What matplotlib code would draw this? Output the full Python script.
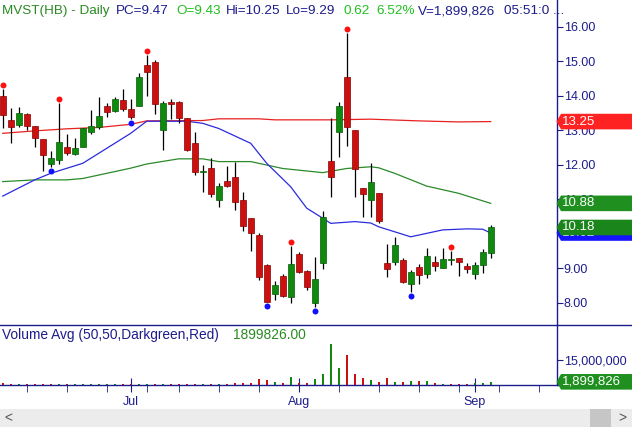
import matplotlib
matplotlib.use("Agg")
import matplotlib.pyplot as plt
import matplotlib.transforms as mtransforms
from matplotlib.patches import Polygon, Rectangle
from matplotlib.lines import Line2D
import numpy as np
import pandas as pd

plt.rcParams["font.family"] = ["Liberation Sans", "DejaVu Sans"]

# trading days on the chart (Jul 5 holiday dropped) + blank days to the right
days = pd.bdate_range("2021-06-09", "2021-09-03").drop(pd.Timestamp("2021-07-05"))
future = pd.bdate_range("2021-09-06", "2021-09-17")

opens = [13.99, 13.30, 13.16, 13.47, 13.11, 12.74, 12.03, 12.13, 12.51, 12.32,
         12.52, 12.94, 13.10, 13.70, 13.56, 13.87, 13.61, 13.69, 14.89, 14.98,
         13.00, 13.82, 13.82, 13.35, 12.63, 11.80, 11.89, 10.99, 11.52, 11.63,
         10.97, 10.45, 9.95, 9.08, 8.24, 8.77, 8.16, 9.41, 8.92, 7.98,
         9.14, 12.10, 12.94, 14.53, 13.01, 11.32, 10.97, 11.17, 9.14, 9.17,
         9.23, 8.53, 9.03, 8.82, 9.17, 9.02, 9.23, 9.29, 9.06, 8.82,
         9.08, 9.43]
highs = [14.18, 13.63, 13.68, 13.51, 13.13, 12.74, 12.40, 13.78, 12.89, 12.76,
         13.07, 13.58, 13.95, 13.80, 13.95, 14.19, 13.89, 14.65, 15.18, 15.03,
         13.85, 13.90, 13.85, 13.35, 12.95, 11.99, 12.18, 11.48, 11.97, 12.09,
         11.20, 10.45, 10.01, 9.11, 8.64, 8.83, 9.64, 9.46, 8.95, 9.32,
         10.66, 13.34, 13.83, 15.81, 13.01, 11.32, 12.04, 11.17, 9.69, 9.89,
         9.30, 8.95, 9.12, 9.59, 9.35, 9.58, 9.51, 9.29, 9.14, 9.18,
         9.56, 10.25]
lows = [13.05, 12.62, 13.08, 13.01, 12.52, 11.83, 11.94, 12.02, 12.28, 12.28,
        12.50, 12.88, 13.04, 13.39, 13.54, 13.57, 13.32, 13.69, 13.99, 13.47,
        12.44, 13.32, 13.20, 12.40, 11.69, 11.22, 11.07, 10.78, 11.36, 10.69,
        10.09, 9.51, 8.66, 8.01, 8.08, 8.16, 8.00, 8.85, 8.37, 7.88,
        8.97, 11.05, 12.21, 12.54, 11.05, 10.49, 10.49, 10.30, 8.75, 9.10,
        8.56, 8.32, 8.53, 8.71, 8.93, 9.02, 9.09, 8.78, 8.85, 8.68,
        8.85, 9.29]
closes = [13.43, 13.10, 13.49, 13.12, 12.76, 12.27, 12.19, 12.66, 12.35, 12.48,
          13.05, 13.12, 13.41, 13.54, 13.90, 13.60, 13.37, 14.54, 14.68, 13.75,
          13.80, 13.75, 13.36, 12.42, 11.78, 11.80, 11.16, 11.38, 11.37, 10.93,
          10.21, 10.01, 8.74, 8.03, 8.50, 8.19, 9.11, 8.90, 8.46, 8.68,
          10.47, 11.63, 13.70, 13.10, 11.87, 11.14, 11.49, 10.36, 8.97, 9.66,
          8.59, 8.88, 8.79, 9.34, 9.07, 9.26, 9.23, 9.17, 8.97, 9.08,
          9.46, 10.18]
volumes = [1.2e6, 0.6e6, 0.6e6, 0.5e6, 0.6e6, 0.6e6, 0.5e6, 0.7e6, 0.5e6, 0.5e6,
           0.6e6, 0.5e6, 0.6e6, 0.5e6, 0.6e6, 0.5e6, 0.5e6, 0.6e6, 0.7e6, 0.6e6,
           0.5e6, 0.5e6, 0.6e6, 0.6e6, 0.7e6, 0.5e6, 0.6e6, 0.6e6, 0.5e6, 1.4e6,
           1.4e6, 1.4e6, 3.6e6, 3.0e6, 1.8e6, 1.4e6, 4.8e6, 1.4e6, 1.4e6, 3.6e6,
           6.8e6, 24.8e6, 10.4e6, 18.0e6, 6.8e6, 4.2e6, 3.0e6, 2.0e6, 4.2e6, 2.0e6,
           2.0e6, 2.4e6, 2.4e6, 2.4e6, 1.0e6, 0.8e6, 0.8e6, 0.8e6, 0.8e6, 1.4e6,
           1.4e6, 1899826]

# moving averages at a few bar positions
red_ma_idx = [0, 4, 8, 12, 16, 18, 25, 27, 32, 34, 41, 46, 52, 57, 61]
red_ma = [12.91, 12.98, 13.04, 13.08, 13.17, 13.27, 13.28, 13.33, 13.33, 13.30,
          13.30, 13.32, 13.27, 13.24, 13.25]
grn_ma_idx = [0, 4, 8, 10, 12, 16, 18, 22, 25, 27, 31, 35, 40, 43, 46, 47, 49, 53, 57, 61]
grn_ma = [11.51, 11.56, 11.56, 11.60, 11.70, 11.90, 12.02, 12.17, 12.17, 12.09,
          12.09, 11.89, 11.77, 11.89, 11.94, 11.91, 11.75, 11.38, 11.17, 10.88]
blu_ma_idx = [0, 4, 6, 10, 12, 16, 18, 20, 23, 25, 27, 31, 33, 36, 38, 40, 41, 44,
              46, 47, 51, 53, 55, 58, 60, 61]
blu_ma = [11.09, 11.56, 11.75, 12.04, 12.33, 12.91, 13.26, 13.26, 13.26, 13.20,
          13.05, 12.62, 12.04, 11.36, 10.74, 10.45, 10.30, 10.35, 10.31, 10.20,
          9.91, 10.01, 10.11, 10.14, 10.13, 10.02]

swing_high_idx = [0, 7, 18, 36, 43, 56]
swing_low_idx = [6, 16, 33, 39, 51]

header = [("MVST(HB) - Daily", "#2a8a22"), ("PC=9.47", "#1c1c8c"), ("O=9.43", "#20c020"),
          ("Hi=10.25", "#1c1c8c"), ("Lo=9.29", "#1c1c8c"), ("0.62", "#20c020"),
          ("6.52%", "#20c020"), ("V=1,899,826", "#1c1c8c"), ("05:51:0 ...", "#1c1c8c")]
header_x = [2, 116, 176, 226, 286, 343, 376, 418, 504]

NAVY = "#1c1c8c"
W, H = 632, 428


def fy(py):
    return 1 - py / H


o = np.array(opens); h = np.array(highs); l = np.array(lows); c = np.array(closes)
v = np.array(volumes)
n = len(o)
x = np.arange(n)

all_days = days.append(future)
week_pos = [i for i in range(1, len(all_days))
            if all_days[i].isocalendar()[1] != all_days[i - 1].isocalendar()[1]]
month_pos = [i for i in range(1, len(all_days)) if all_days[i].month != all_days[i - 1].month]
month_lab = [all_days[i].strftime("%b") for i in month_pos]

fig = plt.figure(figsize=(W / 100, H / 100), dpi=100)
ax = fig.add_axes([0, fy(325), 556.7 / W, 325 / H])
axv = fig.add_axes([0, fy(385), 556.7 / W, 60 / H], sharex=ax)

# moving averages
ax.plot(red_ma_idx, red_ma, color="#e82020", lw=0.9, zorder=1.6)
ax.plot(grn_ma_idx, grn_ma, color="#2a8a2a", lw=0.9, zorder=1.6)
ax.plot(blu_ma_idx, blu_ma, color="#2b2bdd", lw=0.9, zorder=1.6)

# candles
up = c >= o
ax.vlines(x, l, h, color="black", lw=0.9, zorder=2)
body = np.maximum(np.abs(c - o), 0.03)
ax.bar(x, body, bottom=np.minimum(o, c), width=0.75,
       color=np.where(up, "#0f8a0f", "#cc1010"),
       edgecolor=np.where(up, "#075a07", "#8a0000"), lw=0.5, zorder=3)

hi_tr = mtransforms.offset_copy(ax.transData, fig=fig, y=4, units="dots")
lo_tr = mtransforms.offset_copy(ax.transData, fig=fig, y=-4, units="dots")
ax.plot(x[swing_high_idx], h[swing_high_idx], "o", color="#ff1010", ms=4.3,
        mec="none", transform=hi_tr, zorder=4)
ax.plot(x[swing_low_idx], l[swing_low_idx], "o", color="#1010ff", ms=4.3,
        mec="none", transform=lo_tr, zorder=4)

ax.set_xlim(-0.34, 69.25)
ax.set_ylim(16 - (325 - 26.7) / 34.5, 16 + 26.7 / 34.5)

# volume, coloured by close vs previous close
prev = np.r_[np.inf, c[:-1]]
axv.bar(x, v, width=0.3, color=np.where(c > prev, "#118811", "#cc1111"), zorder=2)
axv.set_ylim(0, 36e6)

for a in (ax, axv):
    for s in ("left", "top", "bottom"):
        a.spines[s].set_visible(False)
    a.spines["right"].set_color(NAVY)
    a.spines["right"].set_linewidth(1.0)
    a.yaxis.tick_right()
    a.tick_params(axis="y", direction="out", length=4, color=NAVY, labelcolor=NAVY,
                  labelsize=9, pad=1)

ax.set_yticks(np.arange(8, 17))
ax.set_yticklabels([f"{t:.2f}" for t in np.arange(8, 17)])
ax.tick_params(axis="x", bottom=False, labelbottom=False)

axv.set_yticks([15e6])
axv.set_yticklabels(["15,000,000"])
axv.set_xticks(month_pos)
axv.set_xticklabels(month_lab)
axv.set_xticks(week_pos, minor=True)
axv.tick_params(axis="x", which="major", direction="inout", length=10, color=NAVY,
                labelcolor=NAVY, labelsize=9, pad=3)
axv.tick_params(axis="x", which="minor", direction="out", length=5, color=NAVY)

# panel separators
fig.add_artist(Line2D([0, 1], [fy(325), fy(325)], transform=fig.transFigure, color=NAVY, lw=1))
fig.add_artist(Line2D([0, 1], [fy(385), fy(385)], transform=fig.transFigure, color=NAVY, lw=1))

tag_z = [5]


def tag(a, val, txt, color):
    # value flag on the right edge; each new flag sits above the previous one
    y0, y1 = a.get_ylim()
    half = 7.8 * (y1 - y0) / (a.get_position().height * H)
    tr = mtransforms.blended_transform_factory(fig.transFigure, a.transData)
    xl, xt, xr = 556.5 / W, 561 / W, 1.0
    fig.add_artist(Polygon([(xl, val), (xt, val + half), (xr, val + half),
                            (xr, val - half), (xt, val - half)], closed=True,
                           transform=tr, facecolor=color, edgecolor="none",
                           zorder=tag_z[0]))
    fig.text(562 / W, val, txt, transform=tr, color="white", fontsize=9.5,
             va="center", ha="left", zorder=tag_z[0] + 0.5)
    tag_z[0] += 1


tag(ax, red_ma[-1], f"{red_ma[-1]:.2f}", "#ff2222")
tag(ax, grn_ma[-1], f"{grn_ma[-1]:.2f}", "#1f8f1f")
tag(ax, blu_ma[-1], f"{blu_ma[-1]:.2f}", "#1414ff")
tag(ax, c[-1], f"{c[-1]:.2f}", "#1a851a")
tag(axv, v[-1], f"{int(v[-1]):,}", "#1f8f1f")

# header line
for (txt, col), px in zip(header, header_x):
    fig.text(px / W, fy(11), txt, color=col, fontsize=9.7, va="center", ha="left")

fig.text(2 / W, fy(335), "Volume Avg (50,50,Darkgreen,Red)", color=NAVY, fontsize=9.9,
         va="center", ha="left")
fig.text(233 / W, fy(335), f"{v[-1]:.2f}", color="#2a8a22", fontsize=9.9,
         va="center", ha="left")

# scrollbar
fig.add_artist(Rectangle((0, fy(427)), 1, 18 / H, transform=fig.transFigure,
                         facecolor="#ececec", edgecolor="none"))
fig.add_artist(Rectangle((590 / W, fy(427)), 21 / W, 18 / H, transform=fig.transFigure,
                         facecolor="#c6c6c6", edgecolor="none"))
fig.text(8 / W, fy(418), "<", color="#555555", fontsize=10, va="center", ha="center")
fig.text(622 / W, fy(418), ">", color="#555555", fontsize=10, va="center", ha="center")

fig.savefig("out.png", dpi=100)
